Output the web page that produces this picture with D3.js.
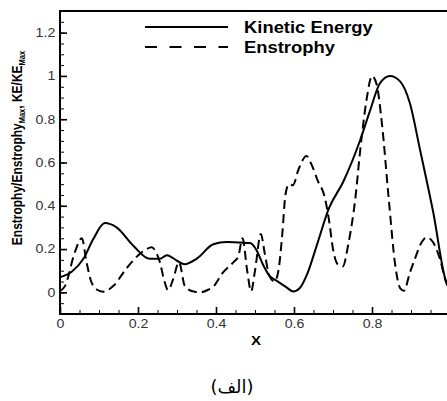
<!DOCTYPE html>
<html>
<head>
<meta charset="utf-8">
<script src="https://cdn.jsdelivr.net/npm/d3@7"></script>
<style>
  body { margin: 0; background: #fff; }
  svg { display: block; }
  .tick text { font-family: "Liberation Sans", Arial, sans-serif; font-size: 12px; fill: #333; }
  .bold { font-family: "Liberation Sans", Arial, sans-serif; font-weight: bold; fill: #000; }
</style>
</head>
<body>
<div id="chart"></div>
<script>
var W = 447, H = 401,
  margin = { top: 11, left: 60 },
  plotRight = 450, plotBottom = 314,
  sx = 1.18; // glyphs in the picture are a bit wider than tall

// kinetic energy (solid)
var keX = [0, 0.03, 0.06, 0.085, 0.115, 0.145, 0.188, 0.23, 0.256, 0.274, 0.30, 0.32, 0.35, 0.393, 0.427, 0.46, 0.487,
  0.504, 0.52, 0.537, 0.555, 0.58, 0.598, 0.615, 0.635, 0.658, 0.69, 0.726, 0.77, 0.795, 0.82, 0.846, 0.872, 0.897,
  0.923, 0.957, 0.99, 1.0];
var keY = [0.07, 0.095, 0.155, 0.245, 0.32, 0.30, 0.215, 0.155, 0.155, 0.172, 0.146, 0.13, 0.155, 0.222, 0.233, 0.23, 0.228,
  0.195, 0.13, 0.077, 0.054, 0.024, 0.004, 0.02, 0.09, 0.215, 0.39, 0.51, 0.705, 0.84, 0.965, 1.0, 0.975, 0.875,
  0.66, 0.37, 0.05, 0.02];

// enstrophy (dashed)
var enX = [0, 0.013, 0.038, 0.056, 0.068, 0.08, 0.095, 0.11, 0.137, 0.17, 0.2, 0.222, 0.235, 0.245, 0.256, 0.268, 0.277,
  0.29, 0.305, 0.32, 0.34, 0.36, 0.38, 0.395, 0.415, 0.445, 0.457, 0.468, 0.48, 0.49, 0.5, 0.515, 0.525, 0.537, 0.55,
  0.56, 0.57, 0.578, 0.587, 0.597, 0.612, 0.632, 0.645, 0.66, 0.68, 0.69, 0.7, 0.712, 0.725, 0.74, 0.757, 0.77, 0.786,
  0.8, 0.812, 0.826, 0.843, 0.86, 0.872, 0.882, 0.897, 0.91, 0.927, 0.94, 0.957, 0.974, 0.99, 1.0];
var enY = [0.005, 0.03, 0.185, 0.25, 0.14, 0.05, 0.012, 0.003, 0.03, 0.11, 0.17, 0.2, 0.208, 0.19, 0.14, 0.05, 0.01,
  0.06, 0.14, 0.03, 0.005, 0.0, 0.012, 0.03, 0.085, 0.14, 0.165, 0.25, 0.1, 0.005, 0.1, 0.27, 0.18, 0.075, 0.05,
  0.1, 0.27, 0.45, 0.5, 0.495, 0.57, 0.63, 0.59, 0.52, 0.43, 0.33, 0.2, 0.13, 0.12, 0.23, 0.43, 0.66, 0.89,
  1.0, 0.96, 0.77, 0.43, 0.12, 0.02, 0.008, 0.09, 0.155, 0.23, 0.254, 0.23, 0.155, 0.047, 0.01];

var xMajor = [0, 0.2, 0.4, 0.6, 0.8, 1];
var xLabels = ["0", "0.2", "0.4", "0.6", "0.8", ""]; // the "1" falls outside the picture
var yMajor = [0, 0.2, 0.4, 0.6, 0.8, 1, 1.2];
var yLabels = ["0", "0.2", "0.4", "0.6", "0.8", "1", "1.2"];
var seriesNames = ["Kinetic Energy", "Enstrophy"];

var svg = d3.select("#chart").append("svg")
  .attr("width", W)
  .attr("height", H);

var x = d3.scaleLinear().domain([0, 1]).range([margin.left, plotRight]);
var y = d3.scaleLinear().domain([-0.1, 1.3]).range([plotBottom, margin.top]);

svg.append("clipPath").attr("id", "clip")
  .append("rect")
  .attr("x", margin.left).attr("y", margin.top)
  .attr("width", plotRight - margin.left).attr("height", plotBottom - margin.top);

// minor ticks every 0.05
var xMinor = d3.range(0, 1.0001, 0.05);
var yMinor = d3.range(-0.1, 1.3001, 0.05);

svg.append("g")
  .attr("transform", "translate(0," + plotBottom + ")")
  .call(d3.axisBottom(x).tickValues(xMinor).tickSize(-4).tickSizeOuter(0).tickFormat(""))
  .call(function (g) { g.select(".domain").remove(); });

svg.append("g")
  .attr("transform", "translate(" + margin.left + ",0)")
  .call(d3.axisLeft(y).tickValues(yMinor).tickSize(-4).tickSizeOuter(0).tickFormat(""))
  .call(function (g) { g.select(".domain").remove(); });

var xAxis = svg.append("g")
  .attr("transform", "translate(0," + plotBottom + ")")
  .call(d3.axisBottom(x).tickValues(xMajor).tickSize(-7).tickSizeOuter(0).tickPadding(5)
    .tickFormat(function (d, i) { return xLabels[i]; }))
  .call(function (g) { g.select(".domain").remove(); });
xAxis.selectAll(".tick line").attr("stroke-width", 1.6);
xAxis.selectAll(".tick text").attr("transform", "scale(" + sx + ",1)");

var yAxis = svg.append("g")
  .attr("transform", "translate(" + margin.left + ",0)")
  .call(d3.axisLeft(y).tickValues(yMajor).tickSize(-7).tickSizeOuter(0).tickPadding(4)
    .tickFormat(function (d, i) { return yLabels[i]; }))
  .call(function (g) { g.select(".domain").remove(); });
yAxis.selectAll(".tick line").attr("stroke-width", 1.6);
yAxis.selectAll(".tick text").attr("transform", "scale(" + sx + ",1)");

// frame
svg.append("rect")
  .attr("x", margin.left).attr("y", margin.top)
  .attr("width", plotRight - margin.left).attr("height", plotBottom - margin.top)
  .attr("fill", "none").attr("stroke", "#000").attr("stroke-width", 2);

var line = d3.line()
  .x(function (d) { return x(d[0]); })
  .y(function (d) { return y(d[1]); })
  .curve(d3.curveMonotoneX);

var plot = svg.append("g").attr("clip-path", "url(#clip)");

plot.append("path")
  .datum(d3.zip(keX, keY))
  .attr("d", line)
  .attr("fill", "none").attr("stroke", "#000").attr("stroke-width", 2);

plot.append("path")
  .datum(d3.zip(enX, enY))
  .attr("d", line)
  .attr("fill", "none").attr("stroke", "#000").attr("stroke-width", 2)
  .attr("stroke-dasharray", "9,5");

// legend
var legend = svg.selectAll(".legend")
  .data(seriesNames)
  .enter().append("g")
  .attr("class", "legend")
  .attr("transform", function (d, i) { return "translate(145," + (27 + i * 20) + ")"; });

legend.append("line")
  .attr("x1", 0).attr("x2", 83)
  .attr("stroke", "#000").attr("stroke-width", 2)
  .attr("stroke-dasharray", function (d, i) { return i ? "12,12.5" : null; });

legend.append("text")
  .attr("class", "bold")
  .attr("transform", "translate(99,5.5) scale(1.15,1)")
  .style("font-size", "16px")
  .text(function (d) { return d; });

// axis titles
svg.append("text")
  .attr("class", "bold")
  .attr("transform", "translate(256," + 345 + ") scale(1.25,1)")
  .attr("text-anchor", "middle")
  .style("font-size", "12px")
  .text("X");

var yTitle = svg.append("text")
  .attr("class", "bold")
  .attr("transform", "translate(21.5,148) scale(" + sx + ",1) rotate(-90)")
  .attr("text-anchor", "middle")
  .style("font-size", "12px");
yTitle.append("tspan").text("Enstrophy/Enstrophy");
yTitle.append("tspan").attr("dy", 3).style("font-size", "7.5px").text("Max");
yTitle.append("tspan").attr("dy", -3).text(", KE/KE");
yTitle.append("tspan").attr("dy", 3).style("font-size", "7.5px").text("Max");

// caption
svg.append("text")
  .attr("x", 232).attr("y", 393)
  .attr("text-anchor", "middle")
  .style("font-family", "'DejaVu Sans', sans-serif")
  .style("font-size", "18px")
  .text("(الف)");
</script>
</body>
</html>
